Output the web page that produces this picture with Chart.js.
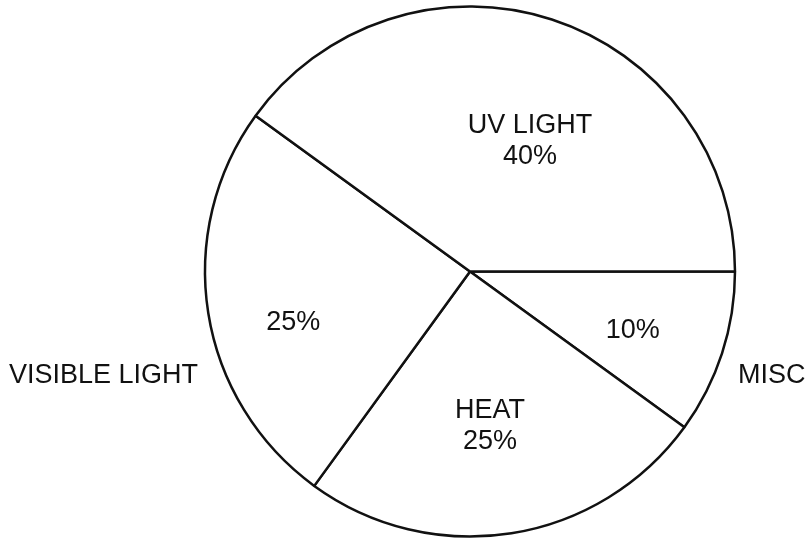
<!DOCTYPE html>
<html>
<head>
<meta charset="utf-8">
<script src="https://cdn.jsdelivr.net/npm/chart.js@4"></script>
<style>
  html, body { margin: 0; padding: 0; background: #fff; }
  #wrap { width: 805px; height: 541px; }
</style>
</head>
<body>
<div id="wrap"><canvas id="energyPie"></canvas></div>
<script>
// slices, clockwise starting at 3 o'clock
const categories = ['MISC', 'HEAT', 'VISIBLE LIGHT', 'UV LIGHT'];
const shares = [10, 25, 25, 40];
const nameInside = [false, true, false, true];

// where each slice's text sits: fraction of radius, angle nudge (deg)
const labelSpots = [
  { r: 0.653, da: 1.9 },
  { r: 0.585, da: 1.6 },
  { r: 0.694, da: -7 },
  { r: 0.543, da: 6.6 }
];

const FONT = '27px "Liberation Sans", Arial, sans-serif';

const sliceLabels = {
  id: 'sliceLabels',
  afterDatasetsDraw(chart) {
    const ctx = chart.ctx;
    const meta = chart.getDatasetMeta(0);
    ctx.save();
    ctx.font = FONT;
    ctx.fillStyle = '#111';
    ctx.textBaseline = 'middle';
    meta.data.forEach((arc, i) => {
      const p = arc.getProps(['x', 'y', 'startAngle', 'endAngle', 'outerRadius'], true);
      const mid = (p.startAngle + p.endAngle) / 2 + labelSpots[i].da * Math.PI / 180;
      const d = p.outerRadius * labelSpots[i].r;
      const lx = p.x + Math.cos(mid) * d;
      const ly = p.y + Math.sin(mid) * d;
      const pct = shares[i] + '%';
      ctx.textAlign = 'center';
      if (nameInside[i]) {
        ctx.fillText(categories[i], lx, ly - 15);
        ctx.fillText(pct, lx, ly + 16);
      } else {
        ctx.fillText(pct, lx, ly);
        // name goes outside the circle, level with the lower part
        const side = Math.cos(mid) < 0 ? -1 : 1;
        ctx.textAlign = side < 0 ? 'right' : 'left';
        ctx.fillText(categories[i], p.x + side * (p.outerRadius + (side < 0 ? 7 : 3)), p.y + 104);
      }
    });
    ctx.restore();
  }
};

new Chart(document.getElementById('energyPie').getContext('2d'), {
  type: 'pie',
  data: {
    labels: categories,
    datasets: [{
      data: shares,
      backgroundColor: '#ffffff',
      borderColor: '#111111',
      borderWidth: 2.5
    }]
  },
  options: {
    responsive: true,
    maintainAspectRatio: false,
    animation: false,
    rotation: 90,
    radius: 265,
    layout: { padding: { left: 205, right: 70, top: 6, bottom: 4 } },
    plugins: {
      legend: { display: false },
      tooltip: { enabled: false }
    }
  },
  plugins: [sliceLabels]
});
</script>
</body>
</html>
